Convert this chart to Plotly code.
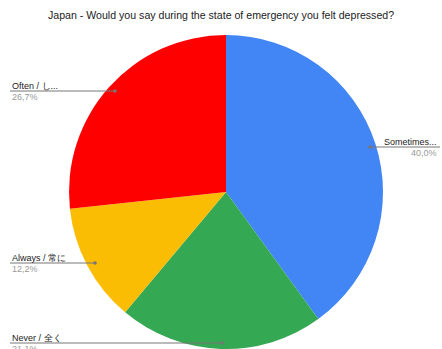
import plotly.graph_objects as go

labels = ["Sometimes / 時々", "Never / 全く", "Always / 常に", "Often / しばしば"]
short_labels = ["Sometimes...", "Never / 全く", "Always / 常に", "Often / し..."]
values = [40.0, 21.1, 12.2, 26.7]
pct_text = ["40,0%", "21,1%", "12,2%", "26,7%"]
colors = ["#4285F4", "#34A853", "#FBBC04", "#FF0000"]

W, H = 442, 349

fig = go.Figure(go.Pie(
    labels=labels, values=values, sort=False, direction="clockwise", rotation=0,
    marker=dict(colors=colors, line=dict(width=0)),
    textinfo="none", hoverinfo="label+percent",
    domain=dict(x=[69 / W, 383 / W], y=[0, 1 - 35 / H]),
))

def px(x):
    return x / W

def py(y):
    return 1 - y / H

# label layout: (line x0, line x1, line y, dot x, text anchor side)
leaders = [
    (370, 440, 147, 370, "right"),   # Sometimes
    (10, 222, 343, 222, "left"),     # Never
    (10, 95, 263, 95, "left"),       # Always
    (10, 115, 91, 115, "left"),      # Often
]

shapes = []
annotations = []
for i, (x0, x1, y, dx, side) in enumerate(leaders):
    shapes.append(dict(type="line", xref="paper", yref="paper",
                       x0=px(x0), x1=px(x1), y0=py(y), y1=py(y),
                       line=dict(color="#777777", width=1)))
    shapes.append(dict(type="circle", xref="paper", yref="paper",
                       x0=px(dx - 1.8), x1=px(dx + 1.8), y0=py(y + 1.8), y1=py(y - 1.8),
                       fillcolor="#777777", line=dict(width=0)))
    if side == "left":
        tx, anchor = px(10), "left"
    else:
        tx, anchor = px(439), "right"
    annotations.append(dict(x=tx, y=py(y - 5), xref="paper", yref="paper",
                            text=short_labels[i], showarrow=False, xanchor=anchor,
                            yanchor="middle", font=dict(size=9, color="#222222",
                                                        family="Liberation Sans, Arial")))
    annotations.append(dict(x=tx, y=py(y + 6), xref="paper", yref="paper",
                            text=pct_text[i], showarrow=False, xanchor=anchor,
                            yanchor="middle", font=dict(size=9, color="#999999",
                                                        family="Liberation Sans, Arial")))

annotations.append(dict(x=0.5, y=py(15), xref="paper", yref="paper",
                        text="Japan - Would you say during the state of emergency you felt depressed?",
                        showarrow=False, xanchor="center", yanchor="middle",
                        font=dict(size=10.6, color="#222222", family="Liberation Sans, Arial")))

fig.update_layout(
    width=W, height=H, margin=dict(l=0, r=0, t=0, b=0),
    paper_bgcolor="white", plot_bgcolor="white",
    showlegend=False, shapes=shapes, annotations=annotations,
)

fig.write_html("out.html", config={"displayModeBar": False})
